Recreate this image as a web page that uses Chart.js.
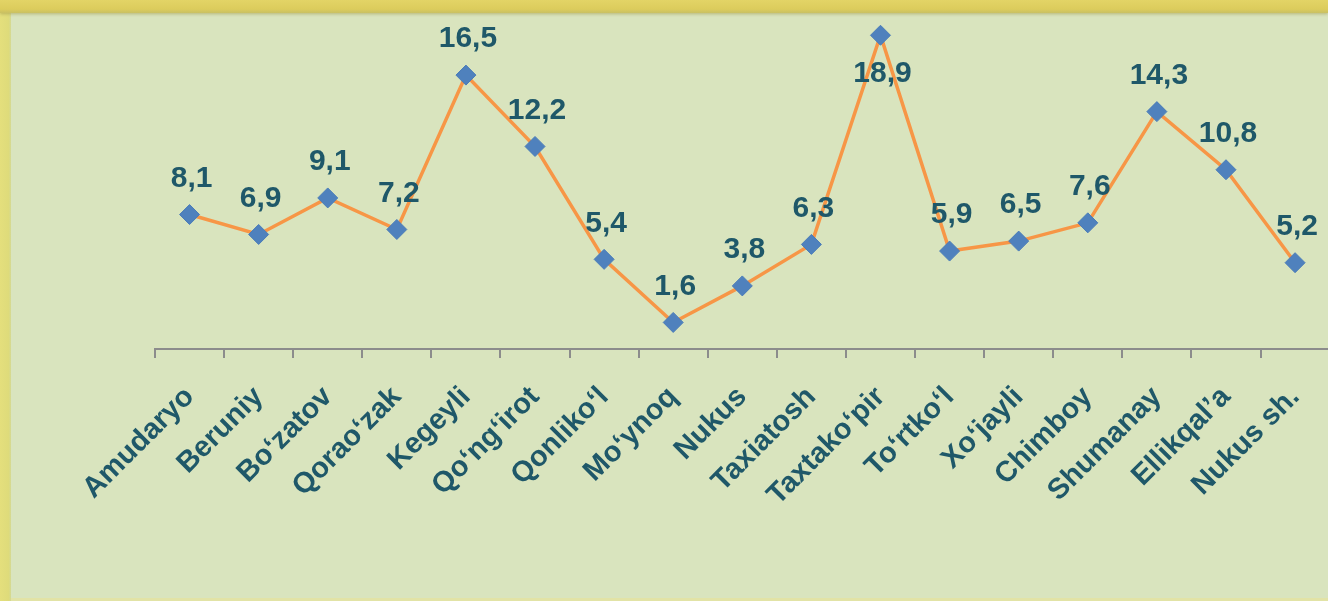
<!DOCTYPE html>
<html>
<head>
<meta charset="utf-8">
<script src="https://cdn.jsdelivr.net/npm/chart.js@4"></script>
<style>
  html, body { margin: 0; padding: 0; overflow: hidden; }
  body { width: 1328px; height: 601px; background: #d9e4be; position: relative; }
  .top { position: absolute; left: 0; top: 0; width: 1328px; height: 13px;
    background: linear-gradient(#e3d466, #dccc5c 70%, #c9c062);
    box-shadow: 0 1px 3px rgba(160,150,70,0.6); z-index: 2; }
  .left { position: absolute; left: 0; top: 0; width: 11px; height: 601px;
    background: linear-gradient(to right, #e4df7c, #dedb7a 80%, #d3d996); z-index: 1; }
  .bottom { position: absolute; left: 0; bottom: 0; width: 1328px; height: 3px; background: #e2e3a6; }
  #wrap { position: absolute; left: 0; top: 0; width: 1342px; height: 601px; z-index: 3; }
</style>
</head>
<body>
<div class="top"></div>
<div class="left"></div>
<div class="bottom"></div>
<div id="wrap"><canvas id="chart"></canvas></div>
<script>
const DISTRICTS = ['Amudaryo', 'Beruniy', 'Bo‘zatov', 'Qorao‘zak', 'Kegeyli', 'Qo‘ng‘irot', 'Qonliko‘l',
  'Mo‘ynoq', 'Nukus', 'Taxiatosh', 'Taxtako‘pir', 'To‘rtko‘l', 'Xo‘jayli', 'Chimboy', 'Shumanay',
  'Ellikqal’a', 'Nukus sh.'];
const VALUES = [8.1, 6.9, 9.1, 7.2, 16.5, 12.2, 5.4, 1.6, 3.8, 6.3, 18.9, 5.9, 6.5, 7.6, 14.3, 10.8, 5.2];

const TEXT_COLOR = '#1f5869';

// value labels above each point ("8,1" style), flipped below if no room at the top
const valueLabels = {
  id: 'valueLabels',
  afterDatasetsDraw(chart) {
    const ctx = chart.ctx;
    const meta = chart.getDatasetMeta(0);
    ctx.save();
    ctx.font = 'bold 30px "Liberation Sans", Arial, sans-serif';
    ctx.fillStyle = TEXT_COLOR;
    ctx.textAlign = 'center';
    ctx.textBaseline = 'middle';
    meta.data.forEach((pt, i) => {
      const txt = VALUES[i].toFixed(1).replace('.', ',');
      let y = pt.y - 36;
      if (y < chart.chartArea.top + 12) y = pt.y + 38;
      ctx.fillText(txt, pt.x + 2, y);
    });
    ctx.restore();
  }
};

new Chart(document.getElementById('chart'), {
  type: 'line',
  data: {
    labels: DISTRICTS,
    datasets: [{
      data: VALUES,
      borderColor: '#f79646',
      borderWidth: 3.5,
      tension: 0,
      fill: false,
      pointStyle: 'rectRot',
      pointRadius: 10,
      pointBackgroundColor: '#4f81bd',
      pointBorderColor: '#4a7cb8',
      pointBorderWidth: 1
    }]
  },
  options: {
    responsive: true,
    maintainAspectRatio: false,
    animation: false,
    layout: { padding: { left: 155, top: 17, right: 0, bottom: 0 } },
    plugins: { legend: { display: false }, tooltip: { enabled: false } },
    scales: {
      x: {
        offset: true,
        afterFit: s => { s.height = 252; },
        border: { display: true, color: '#8c8c8c', width: 2 },
        grid: { offset: true, drawOnChartArea: false, drawTicks: true, tickLength: 9, color: '#8c8c8c', lineWidth: 2 },
        ticks: {
          autoSkip: false,
          minRotation: 45,
          maxRotation: 45,
          padding: 22,
          color: TEXT_COLOR,
          font: { family: '"Liberation Sans", Arial, sans-serif', size: 29, weight: 'bold' }
        }
      },
      y: { display: false, min: 0, max: 20 }
    }
  },
  plugins: [valueLabels]
});
</script>
</body>
</html>
